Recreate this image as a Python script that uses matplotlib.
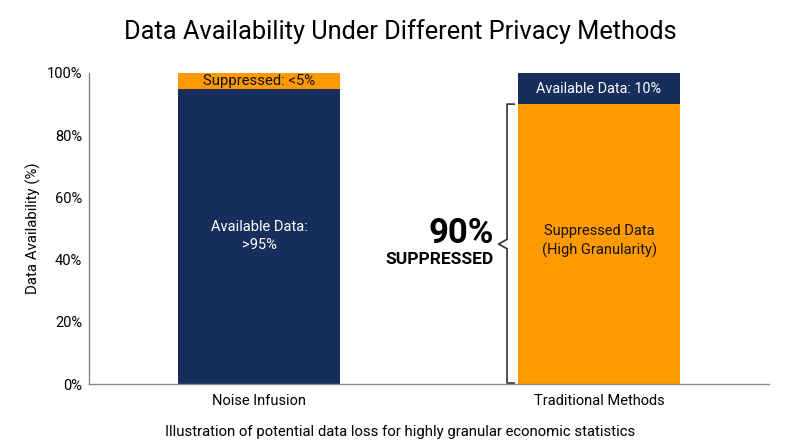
import matplotlib
matplotlib.use("Agg")
import matplotlib.pyplot as plt
from matplotlib.ticker import PercentFormatter

plt.rcParams['font.family'] = ['Roboto', 'DejaVu Sans']

categories = ["Noise Infusion", "Traditional Methods"]
available = [95, 10]
suppressed = [5, 90]
navy = "#172E5C"
orange = "#FF9A00"

fig = plt.figure(figsize=(8, 4.47), dpi=100)
ax = fig.add_axes([89/800, 1-384/447, 680/800, 311/447])

x = [0, 1]
w = 0.475
# Noise infusion: available bottom, suppressed top
ax.bar(x[0], available[0], width=w, color=navy)
ax.bar(x[0], suppressed[0], bottom=available[0], width=w, color=orange)
# Traditional: suppressed bottom, available top
ax.bar(x[1], suppressed[1], width=w, color=orange)
ax.bar(x[1], available[1], bottom=suppressed[1], width=w, color=navy)

ax.set_xlim(-0.5, 1.5)
ax.set_ylim(0, 100)
ax.set_yticks([0, 20, 40, 60, 80, 100])
ax.yaxis.set_major_formatter(PercentFormatter(decimals=0))
ax.set_xticks(x)
ax.set_xticklabels(categories, fontsize=10.5)
ax.tick_params(axis='both', length=0, labelsize=10.5)
ax.tick_params(axis='y', pad=5)
ax.tick_params(axis='x', pad=7)
for s in ['top', 'right']:
    ax.spines[s].set_visible(False)
for s in ['left', 'bottom']:
    ax.spines[s].set_color('#888888')
    ax.spines[s].set_linewidth(1.0)

ax.set_ylabel("Data Availability (%)", fontsize=10.8, labelpad=4)

# bar labels
ax.text(x[0], available[0] + suppressed[0]/2, "Suppressed: <5%", ha='center', va='center',
        fontsize=10.7, color='#111111')
ax.text(x[0], available[0]/2, "Available Data:\n>95%", ha='center', va='center',
        fontsize=10.5, color='white', linespacing=1.4)
ax.text(x[1], suppressed[1] + available[1]/2, "Available Data: 10%", ha='center', va='center',
        fontsize=10.4, color='white')
ax.text(x[1], suppressed[1]/2 + 1, "Suppressed Data\n(High Granularity)", ha='center', va='center',
        fontsize=10.5, color='#111111', linespacing=1.4)

# bracket
bx = x[1] - w/2 - 0.033
tx = x[1] - w/2 - 0.012
mid = suppressed[1]/2
ax.plot([tx, bx, bx, bx - 0.025, bx, bx, tx],
        [suppressed[1], suppressed[1], mid + 1.5, mid, mid - 1.5, 0.3, 0.3],
        color='#333333', lw=1.2, clip_on=False)
ax.text(bx - 0.04, mid + 3.5, "90%", ha='right', va='center', fontsize=25,
        fontweight='bold', color='black')
ax.text(bx - 0.04, mid - 5, "SUPPRESSED", ha='right', va='center', fontsize=12.5,
        fontweight='bold', color='black')

fig.text(0.5, 1-32/447, "Data Availability Under Different Privacy Methods", ha='center',
         va='center', fontsize=18.3)
fig.text(0.5, 1-432/447, "Illustration of potential data loss for highly granular economic statistics",
         ha='center', va='center', fontsize=10.7)

fig.savefig("out.png", dpi=100)
